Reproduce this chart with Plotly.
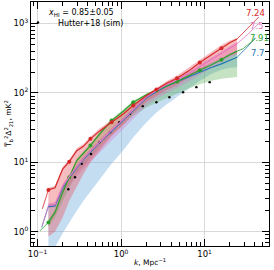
import plotly.graph_objects as go

# ---------------- data ----------------
k = [0.135, 0.162, 0.2, 0.24, 0.295, 0.355, 0.43, 0.56, 0.77, 1.07, 1.4,
     2.03, 2.65, 3.5, 4.68, 6.4, 8.77, 11.8, 15.9, 20.0, 24.5]
marker_idx = [0, 3, 6, 8, 10, 12, 14, 16, 18]

red = [4.0, 4.3, 8.0, 10.2, 14.7, 17.0, 21.8, 28.6, 37.7, 50, 66,
       92, 112, 138, 163, 206, 275, 348, 441, 530, 600]
red_hi = [4.3, 4.6, 8.6, 11.0, 16.0, 18.5, 23.5, 31, 41, 54, 70,
          97, 118, 147, 178, 230, 305, 385, 490, 570, 620]
red_lo = [0.85, 1.0, 1.6, 2.8, 4.5, 6.8, 10, 15, 24, 35, 50,
          75, 90, 110, 130, 165, 210, 260, 310, 345, 370]

pink = [2.4, 2.45, 4.5, 6.2, 8.5, 11.3, 14.5, 20, 29, 42, 58,
        88, 108, 132, 155, 190, 240, 300, 370, 440, 510]
pink_hi = [2.6, 2.65, 4.9, 6.7, 9.2, 12.2, 15.6, 21.5, 31, 45, 62,
           93, 114, 140, 165, 205, 260, 325, 400, 475, 540]
pink_lo = [2.2, 2.25, 3.6, 4.6, 6.2, 8.0, 10.2, 14, 20.5, 30, 42,
           66, 82, 100, 118, 145, 180, 225, 275, 320, 360]

green = [1.36, 1.9, 3.7, 6.1, 10.6, 13.5, 17.4, 26, 39.9, 55, 73.5,
         95, 108, 126, 146, 178, 212, 250, 300, 355, 400]
green_hi = [1.5, 2.1, 4.0, 6.6, 11.4, 14.5, 18.6, 27.5, 42, 58, 77,
            99, 113, 132, 153, 186, 222, 262, 315, 370, 410]
green_lo = [1.2, 1.6, 2.8, 4.4, 7.0, 8.8, 11.3, 16.5, 25, 35, 47,
            62, 72, 85, 98, 115, 133, 148, 160, 166, 170]

blue = [2.3, 2.35, 4.3, 6.0, 8.3, 11.0, 14.0, 19.5, 28, 41, 57,
        86, 104, 125, 145, 170, 200, 230, 262, 295, 327]
blue_hi = [2.5, 2.55, 4.7, 6.5, 9.0, 12.0, 15.2, 21, 30.5, 44, 61,
           92, 112, 136, 160, 192, 232, 275, 320, 365, 410]
blue_lo = [0.45, 0.6, 0.95, 1.35, 2.0, 2.8, 3.8, 5.8, 9.5, 15, 23,
           38, 52, 68, 88, 115, 150, 185, 215, 230, 235]

# thin extrapolated segments (left, right)
red_left_k, red_left = [0.114, 0.135], [2.13, 4.0]
red_right_k, red_right = [24.5, 33, 44.6], [600, 850, 1240]
pink_left_k, pink_left = [0.114, 0.135], [1.22, 2.4]
pink_right_k, pink_right = [24.5, 33, 44], [510, 700, 994]
green_left_k, green_left = [0.107, 0.135], [1.03, 1.36]
green_right_k, green_right = [24.5, 28.9, 40.6], [400, 433, 607]
blue_left_k, blue_left = [0.112, 0.135], [1.15, 2.3]
blue_right_k, blue_right = [24.5, 32, 40.6], [327, 450, 624]

hutter_k = [0.234, 0.281, 0.338, 0.437, 0.55, 0.738, 0.954, 1.28, 1.82,
            2.65, 3.79, 5.53, 7.98, 11.5]
hutter_p = [4.1, 6.1, 9.5, 13.2, 19.4, 27.1, 37.7, 49.9, 64.5,
            73.4, 86.7, 102, 121, 143]

labels = ["7.24", "7.5", "7.91", "7.7"]
x_tickvals = [0.1, 1, 10]
x_ticktext = ["10<sup>−1</sup>", "10<sup>0</sup>", "10<sup>1</sup>"]
y_tickvals = [1, 10, 100, 1000]
y_ticktext = ["10<sup>0</sup>", "10<sup>1</sup>", "10<sup>2</sup>", "10<sup>3</sup>"]

# ---------------- figure ----------------
C = {"red": "#d62728", "pink": "#e377c2", "green": "#2ca02c", "blue": "#1f77b4"}
FILL = {"red": "rgba(235,80,90,0.38)", "pink": "rgba(220,110,200,0.33)",
        "green": "rgba(80,170,70,0.33)", "blue": "rgba(110,170,220,0.40)"}

fig = go.Figure()

series = {
    "blue": (blue, blue_hi, blue_lo, blue_left_k, blue_left, blue_right_k, blue_right),
    "green": (green, green_hi, green_lo, green_left_k, green_left, green_right_k, green_right),
    "pink": (pink, pink_hi, pink_lo, pink_left_k, pink_left, pink_right_k, pink_right),
    "red": (red, red_hi, red_lo, red_left_k, red_left, red_right_k, red_right),
}

for name, (v, hi, lo, *_r) in series.items():
    fig.add_trace(go.Scatter(x=k + k[::-1], y=hi + lo[::-1], fill="toself",
                             fillcolor=FILL[name], line=dict(width=0),
                             mode="lines", showlegend=False, hoverinfo="skip"))

fig.add_trace(go.Scatter(x=hutter_k, y=hutter_p, mode="markers",
                         marker=dict(color="black", size=2.4, symbol="circle",
                                     line=dict(width=0)),
                         name="Hutter+18 (sim)", showlegend=True))

for name, (v, hi, lo, lk, lv, rk, rv) in series.items():
    fig.add_trace(go.Scatter(x=lk, y=lv, mode="lines", line=dict(color=C[name], width=0.8),
                             showlegend=False))
    fig.add_trace(go.Scatter(x=rk, y=rv, mode="lines", line=dict(color=C[name], width=0.8),
                             showlegend=False))
    fig.add_trace(go.Scatter(x=k, y=v, mode="lines",
                             line=dict(color=C[name], width=1.2),
                             showlegend=False))
    if name in ("red", "green"):
        fig.add_trace(go.Scatter(x=[k[i] for i in marker_idx], y=[v[i] for i in marker_idx],
                                 mode="markers",
                                 marker=dict(size=4, color=C[name], line=dict(width=0)),
                                 showlegend=False))

FONT = "DejaVu Sans"
label_pos = [(0.945, 0.955), (0.95, 0.9), (0.962, 0.852), (0.952, 0.79)]
for (name, lab, (px, py)) in zip(["red", "pink", "green", "blue"], labels, label_pos):
    fig.add_annotation(xref="paper", yref="paper", x=px, y=py, text=lab, showarrow=False,
                       font=dict(family=FONT, size=8.5, color=C[name]), xanchor="center",
                       yanchor="middle")

fig.add_annotation(xref="paper", yref="paper", x=(46 - 31) / 238, y=1 - (13 - 2) / 244,
                   text="<i>x</i><sub>HI</sub> = 0.85±0.05", showarrow=False,
                   font=dict(family=FONT, size=8, color="black"), xanchor="left",
                   yanchor="middle")

# axis titles
fig.add_annotation(xref="paper", yref="paper", x=0.5, y=(246 - 262) / 244,
                   text="<i>k</i>, Mpc<sup>−1</sup>", showarrow=False,
                   font=dict(family=FONT, size=7.5, color="black"),
                   xanchor="center", yanchor="middle")
fig.add_annotation(xref="paper", yref="paper", x=(8 - 31) / 238, y=0.5, textangle=-90,
                   text="T̅<sub>b</sub><sup>2</sup>Δ<sup>2</sup><sub>21</sub>, mK<sup>2</sup>",
                   showarrow=False, font=dict(family=FONT, size=7.5, color="black"),
                   xanchor="center", yanchor="middle")


def minor_vals(lo_dec, hi_dec):
    return [m * 10 ** d for d in range(lo_dec, hi_dec) for m in range(2, 10)]


axis_common = dict(type="log", showline=True, linecolor="black", linewidth=1.2,
                   mirror="allticks", ticks="inside", ticklen=7, tickwidth=1,
                   tickcolor="black", showgrid=True, gridcolor="#d9d9d9", gridwidth=1,
                   zeroline=False,
                   tickfont=dict(family=FONT, size=8.5, color="black"))

fig.update_xaxes(**axis_common, range=[-1.078, 1.771],
                 tickvals=x_tickvals, ticktext=x_ticktext,
                 minor=dict(ticks="inside", ticklen=4, tickwidth=1, tickcolor="black",
                            tickvals=minor_vals(-2, 2), showgrid=False))
fig.update_yaxes(**axis_common, range=[-0.206, 3.31],
                 tickvals=y_tickvals, ticktext=y_ticktext,
                 minor=dict(ticks="inside", ticklen=4, tickwidth=1, tickcolor="black",
                            tickvals=minor_vals(-1, 4), showgrid=False))

fig.update_layout(
    width=274, height=270,
    margin=dict(l=31, r=5, t=2, b=24, autoexpand=False),
    paper_bgcolor="white", plot_bgcolor="white",
    showlegend=True,
    legend=dict(xref="container", yref="container", x=18 / 274, y=1 - 8 / 270,
                xanchor="left", yanchor="top", bgcolor="rgba(0,0,0,0)",
                font=dict(family=FONT, size=8, color="black"),
                itemwidth=30, tracegroupgap=0),
    font=dict(family=FONT),
)

fig.write_html("out.html", post_script="document.body.style.margin='0';",
               config={"displayModeBar": False})
